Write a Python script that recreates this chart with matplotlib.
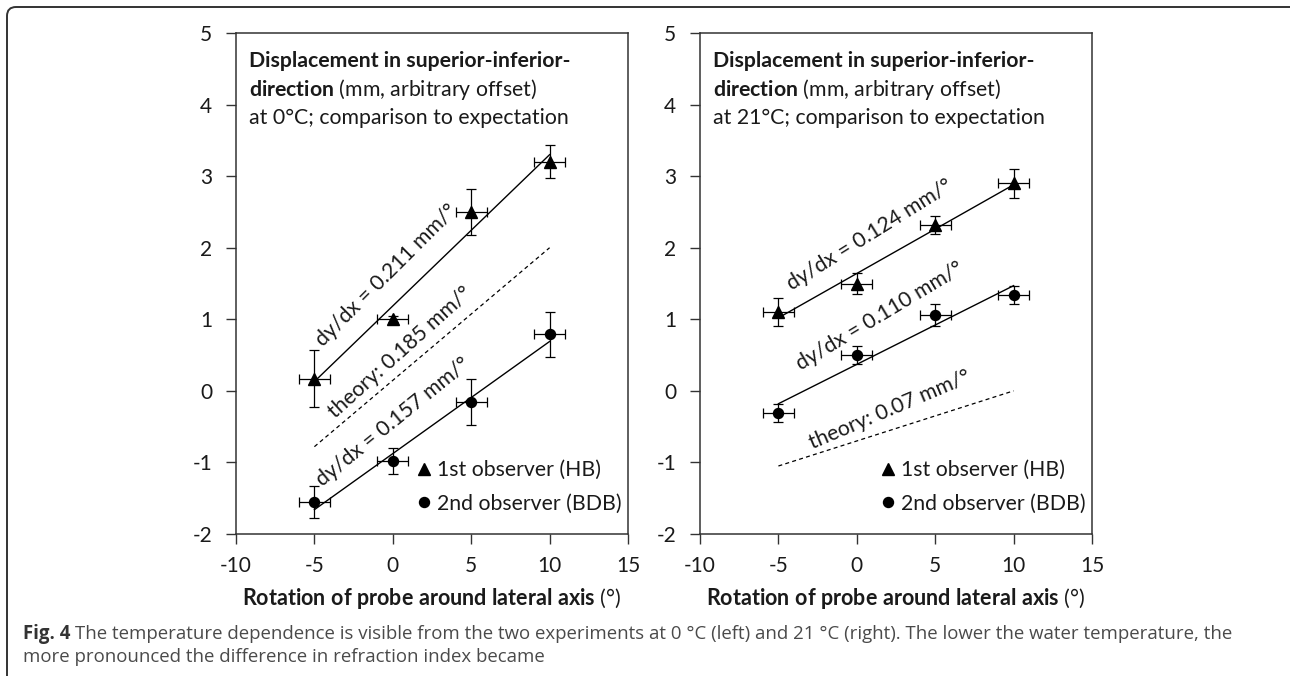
import matplotlib
matplotlib.use("Agg")
import matplotlib.pyplot as plt
from matplotlib.patches import FancyBboxPatch
from matplotlib.lines import Line2D
from matplotlib.transforms import IdentityTransform

# ---------------- data ----------------
x_vals = [-5, 0, 5, 10]
x_err = [1, 1, 1, 1]
fit_x = [-5, 10]

left_hb = [0.17, 1.00, 2.50, 3.20]
left_hb_err = [0.40, 0.04, 0.32, 0.23]
left_bdb = [-1.55, -0.98, -0.16, 0.79]
left_bdb_err = [0.22, 0.18, 0.32, 0.31]
left_hb_fit = [0.13, 3.30]
left_bdb_fit = [-1.66, 0.69]
left_theory = [-0.78, 2.00]

right_hb = [1.10, 1.50, 2.32, 2.90]
right_hb_err = [0.20, 0.15, 0.13, 0.20]
right_bdb = [-0.31, 0.50, 1.06, 1.34]
right_bdb_err = [0.13, 0.12, 0.16, 0.12]
right_hb_fit = [1.02, 2.88]
right_bdb_fit = [-0.18, 1.47]
right_theory = [-1.05, 0.00]

left_labels = ["dy/dx = 0.211 mm/°", "theory: 0.185 mm/°", "dy/dx = 0.157 mm/°"]
left_label_pos = [(-0.4, 1.62, 45), (0.5, 0.53, 42), (0.05, -0.43, 39)]
right_labels = ["dy/dx = 0.124 mm/°", "dy/dx = 0.110 mm/°", "theory: 0.07 mm/°"]
right_label_pos = [(0.84, 2.18, 32), (1.48, 1.05, 31), (2.12, -0.27, 23)]

temps = ["0°C", "21°C"]
legend_labels = ["1st observer (HB)", "2nd observer (BDB)"]
x_ticks = [-10, -5, 0, 5, 10, 15]
y_ticks = [-2, -1, 0, 1, 2, 3, 4, 5]
x_label_bold = "Rotation of probe around lateral axis"
caption_bold = "Fig. 4"
caption_line1 = ("The temperature dependence is visible from the two experiments at 0 °C (left) "
                 "and 21 °C (right). The lower the water temperature, the")
caption_line2 = "more pronounced the difference in refraction index became"

# ---------------- style ----------------
plt.rcParams["font.family"] = ["Lato", "DejaVu Sans"]
plt.rcParams["mathtext.fontset"] = "custom"
plt.rcParams["mathtext.rm"] = "Lato"
plt.rcParams["mathtext.bf"] = "Lato:bold"
plt.rcParams["mathtext.it"] = "Lato:italic"
plt.rcParams["axes.unicode_minus"] = False

W, H = 1290, 676
fig = plt.figure(figsize=(W / 100, H / 100), dpi=100)
renderer = fig.canvas.get_renderer()

TXT = "#1a1a1a"
SPINE = "#333333"


def fit_size(t, target_px):
    w = t.get_window_extent(renderer=renderer).width
    t.set_fontsize(t.get_fontsize() * target_px / w)
    return t.get_fontsize()


# inner font size from title line width (319 px)
probe = fig.text(0, 0, "at 0°C; comparison to expectation", fontsize=14)
inner_fs = fit_size(probe, 319)
probe.remove()
probe = fig.text(0, 0, r"$\mathbf{" + x_label_bold.replace(" ", r"\ ") + r"}$ (°)", fontsize=14)
xl_fs = fit_size(probe, 381)
probe.remove()

axes_rects = [
    [236 / W, 1 - 534 / H, 392 / W, 501 / H],
    [700 / W, 1 - 534 / H, 392 / W, 501 / H],
]

panels = [
    (left_hb, left_hb_err, left_bdb, left_bdb_err, left_hb_fit, left_bdb_fit, left_theory,
     left_labels, left_label_pos, temps[0]),
    (right_hb, right_hb_err, right_bdb, right_bdb_err, right_hb_fit, right_bdb_fit, right_theory,
     right_labels, right_label_pos, temps[1]),
]

for rect, (hb, hbe, bdb, bdbe, hbf, bdbf, th, labs, labpos, temp) in zip(axes_rects, panels):
    ax = fig.add_axes(rect)
    ax.set_xlim(-10, 15)
    ax.set_ylim(-2, 5)
    ax.set_xticks(x_ticks)
    ax.set_yticks(y_ticks)
    ax.tick_params(direction="out", length=7, width=1.0, color=SPINE,
                   labelsize=15, labelcolor=TXT)
    ax.tick_params(axis="y", pad=10)
    ax.tick_params(axis="x", pad=9)
    for s in ax.spines.values():
        s.set_color(SPINE)
        s.set_linewidth(1.1)

    # fit and theory lines
    ax.plot(fit_x, hbf, color="black", lw=1.0)
    ax.plot(fit_x, bdbf, color="black", lw=1.0)
    ax.plot(fit_x, th, color="black", lw=0.9, ls=(0, (3.2, 2.6)))

    ax.errorbar(x_vals, hb, yerr=hbe, xerr=x_err, fmt="^", color="black", ms=8,
                capsize=3.7, elinewidth=0.9, capthick=0.9)
    ax.errorbar(x_vals, bdb, yerr=bdbe, xerr=x_err, fmt="o", color="black", ms=7.2,
                capsize=3.7, elinewidth=0.9, capthick=0.9)

    for lab, (lx, ly, rot) in zip(labs, labpos):
        ax.text(lx, ly, lab, rotation=rot, rotation_mode="anchor", ha="center", va="center",
                fontsize=inner_fs, color=TXT)

    # title block
    tx = 13 / 392
    ax.text(tx, 1 - 28 / 501, "Displacement in superior-inferior-", transform=ax.transAxes,
            fontsize=inner_fs, fontweight="bold", va="center", ha="left", color=TXT)
    ax.text(tx, 1 - 56 / 501, r"$\mathbf{direction}$ (mm, arbitrary offset)",
            transform=ax.transAxes, fontsize=inner_fs, va="center", ha="left", color=TXT)
    ax.text(tx, 1 - 85 / 501, "at " + temp + "; comparison to expectation",
            transform=ax.transAxes, fontsize=inner_fs, va="center", ha="left", color=TXT)

    handles = [Line2D([], [], marker="^", ls="none", color="black", ms=8),
               Line2D([], [], marker="o", ls="none", color="black", ms=7.2)]
    ax.legend(handles, legend_labels, loc="upper left", bbox_to_anchor=(0.457, 0.147),
              frameon=False, borderpad=0, borderaxespad=0, handlelength=0.8,
              handletextpad=0.25, labelspacing=0.62, fontsize=inner_fs, labelcolor=TXT)

    ax.set_xlabel(r"$\mathbf{" + x_label_bold.replace(" ", r"\ ") + r"}$ (°)",
                  fontsize=xl_fs, color=TXT, labelpad=7)

# ---------------- caption ----------------
CAP_FONT = ["Open Sans", "DejaVu Sans"]
probe = fig.text(0, 0, caption_line1, family=CAP_FONT, fontsize=12)
cap_fs = fit_size(probe, 1153)
probe.remove()

t_bold = fig.text(23 / W, 1 - 639 / H, caption_bold, family=CAP_FONT, fontweight="bold",
                  fontsize=cap_fs, color="#333333", va="baseline", ha="left")
bb = t_bold.get_window_extent(renderer=renderer)
fig.text((bb.x1 + 0.27 * cap_fs * 100 / 72) / W, 1 - 639 / H, caption_line1, family=CAP_FONT,
         fontsize=cap_fs, color="#4a4a4a", va="baseline", ha="left")
fig.text(23 / W, 1 - 662 / H, caption_line2, family=CAP_FONT, fontsize=cap_fs,
         color="#4a4a4a", va="baseline", ha="left")

# ---------------- outer rounded frame ----------------
frame = FancyBboxPatch((7, -40), 1340, (H - 7) + 40, boxstyle="round,pad=0,rounding_size=9",
                       transform=IdentityTransform(), fill=False, edgecolor="#333333",
                       linewidth=1.4, clip_on=False)
fig.add_artist(frame)

fig.savefig("out.png", dpi=100)
